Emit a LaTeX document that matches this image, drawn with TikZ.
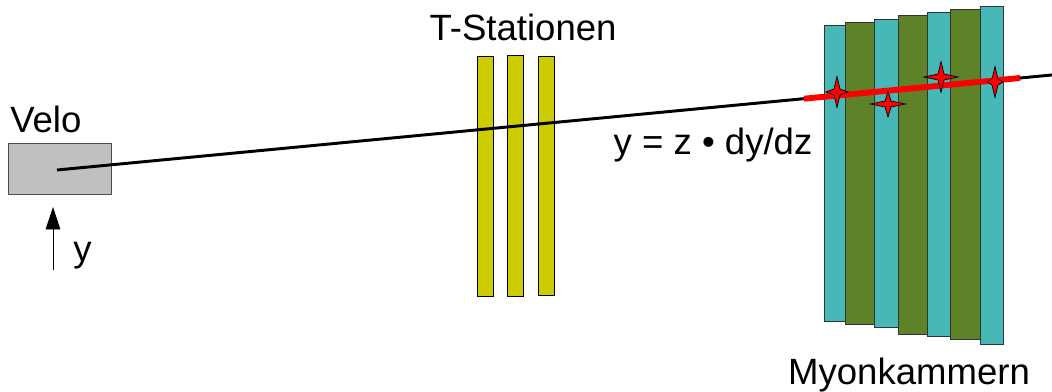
\documentclass[tikz,border=0pt]{standalone}
\usepackage{fontspec}
\setmainfont{Liberation Sans}
\usetikzlibrary{arrows.meta}

\definecolor{veloGray}{RGB}{192,192,192}
\definecolor{stationYellow}{RGB}{204,204,0}
\definecolor{muonCyan}{RGB}{70,184,184}
\definecolor{muonGreen}{RGB}{94,130,40}

\begin{document}
\begin{tikzpicture}[
  x=0.025cm, y=-0.025cm,
  tag/.style={font=\fontsize{26}{31}\selectfont, inner sep=0pt},
  station/.style={draw=black, fill=stationYellow, line width=0.6pt},
  chamber/.style={draw=black!80, line width=0.6pt},
  hit/.style={draw=black, fill=red, line width=0.5pt}
]
\useasboundingbox (0,0) rectangle (1052,392);

% Velo and y axis
\node[draw=black!70, fill=veloGray, minimum width=2.575cm, minimum height=1.275cm, inner sep=0pt] (velo) at (59.5,168.5) {};
\node[tag, anchor=base west] (velotext) at (10,133) {Velo};
\coordinate (yfoot) at (53,270);
\coordinate (ytip) at (53,207);
\draw[line width=0.6pt, -{Triangle[length=16pt, width=10.5pt]}] (yfoot) -- (ytip);
\node[tag, anchor=base west] (ytext) at (73,262) {y};

% T-Stationen
\foreach \xa/\ya/\yb in {477/56/296, 507/55/296, 538/56/295}
  \draw[station] (\xa,\ya) rectangle (\xa+16,\yb);
\node[tag, anchor=base] (ttext) at (523,41) {T-Stationen};

% Myonkammern
\foreach \xa/\xb/\ya/\yb/\col in {824/845/25/321/muonCyan, 845/874/22/324/muonGreen,
    874/898/19/327/muonCyan, 898/927/15/334/muonGreen, 927/950/12/336/muonCyan,
    950/980/9/339/muonGreen, 980/1003/6/344/muonCyan}
  \draw[chamber, fill=\col] (\xa,\ya) rectangle (\xb,\yb);
\node[tag, anchor=base] (muontext) at (909,385) {Myonkammern};

% track and fit
\coordinate (trackstart) at (57,170);
\coordinate (trackend) at (1060,74.2);
\draw[line width=2.1pt] (trackstart) -- (trackend);
\coordinate (fitstart) at (804,98.7);
\coordinate (fitend) at (1020,78);
\draw[red, line width=4.2pt] (fitstart) -- (fitend);
\node[tag, anchor=base] (slope) at (713,155) {y = z \textbullet{} dy/dz};

% hits
\foreach \cx/\cy/\rx/\ry in {837/92/11/15.5, 888/104/17.5/13, 941/77/17/15.5, 995/82/8/15.5}
  \draw[hit] (\cx,\cy-\ry) -- (\cx+3,\cy-3) -- (\cx+\rx,\cy) -- (\cx+3,\cy+3)
    -- (\cx,\cy+\ry) -- (\cx-3,\cy+3) -- (\cx-\rx,\cy) -- (\cx-3,\cy-3) -- cycle;

\end{tikzpicture}
\end{document}
